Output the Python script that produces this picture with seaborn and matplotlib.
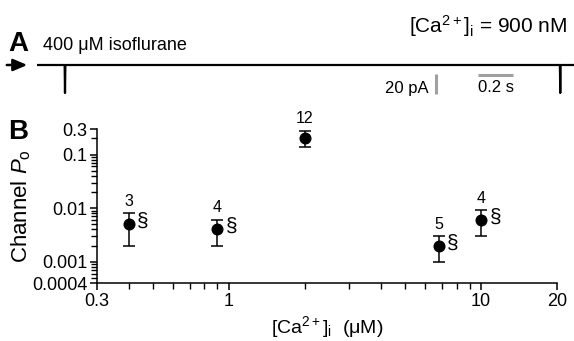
import numpy as np
import pandas as pd
import matplotlib
matplotlib.use("Agg")
import matplotlib.pyplot as plt
import matplotlib.ticker as mticker
import seaborn as sns

# ---------------- data ----------------
ca_conc = [0.4, 0.9, 2.0, 6.8, 10.0]            # [Ca2+]i (uM)
po_mean = [0.0051, 0.0040, 0.206, 0.0020, 0.0061]
po_upper = [0.0081, 0.0061, 0.28, 0.0030, 0.0092]
po_lower = [0.0020, 0.0020, 0.137, 0.0010, 0.0030]
n_labels = ["3", "4", "12", "5", "4"]
significant = [True, True, False, True, True]

x_ticks = [0.3, 1, 10, 20]
x_ticklabels = ["0.3", "1", "10", "20"]
y_ticks = [0.0004, 0.001, 0.01, 0.1, 0.3]
y_ticklabels = ["0.0004", "0.001", "0.01", "0.1", "0.3"]

# single-channel trace (s, pA): flat baseline with two brief openings
trace_t = [0.0, 0.158, 0.16, 0.162, 2.988, 2.99, 2.992, 3.07]
trace_i = [0.0, 0.0, -28.0, 0.0, 0.0, -28.0, 0.0, 0.0]
scale_pA = 20
scale_s = 0.2

# ---------------- style ----------------
sns.set_theme(style="ticks")
plt.rcParams["font.family"] = ["Liberation Sans", "DejaVu Sans"]
plt.rcParams["mathtext.fontset"] = "custom"
plt.rcParams["mathtext.rm"] = "Liberation Sans"
plt.rcParams["mathtext.it"] = "Liberation Sans:italic"
plt.rcParams["axes.linewidth"] = 1.1
for k in ["text.color", "axes.labelcolor", "xtick.color", "ytick.color",
          "axes.edgecolor"]:
    plt.rcParams[k] = "black"

W, H = 574, 341
fig = plt.figure(figsize=(W / 100, H / 100), dpi=100)

def fx(px):
    return px / W

def fy(py):
    return 1 - py / H

# ---------------- panel A: trace ----------------
px_per_s = 175.0
t0_px = 37
y0_px = 65
axA_left, axA_right = t0_px, W
axA_top, axA_bot = 55, 105
axA = fig.add_axes([fx(axA_left), fy(axA_bot), fx(axA_right - axA_left),
                    (axA_bot - axA_top) / H])
axA.set_xlim(0, (axA_right - axA_left) / px_per_s)
axA.set_ylim(-(axA_bot - y0_px), (y0_px - axA_top))
axA.axis("off")
trace_df = pd.DataFrame({"t": trace_t, "i": trace_i})
sns.lineplot(data=trace_df, x="t", y="i", ax=axA, color="black", lw=1.6,
             estimator=None, sort=False)
# scale bars
bar_x = (436 - t0_px) / px_per_s
axA.plot([bar_x, bar_x], [-9, -9 - scale_pA], color="#a0a0a0", lw=2.2,
         solid_capstyle="butt")
hb_x0 = (478 - t0_px) / px_per_s
axA.plot([hb_x0, hb_x0 + scale_s], [-10, -10], color="#a0a0a0", lw=2.2,
         solid_capstyle="butt")
axA.text(bar_x - 0.04, -23, f"{scale_pA} pA", ha="right", va="center", fontsize=12)
axA.text(hb_x0 + scale_s / 2, -23, f"{scale_s} s", ha="center", va="center",
         fontsize=12)

# arrow and labels
axArrow = fig.add_axes([0, 0, 1, 1], facecolor="none")
axArrow.set_xlim(0, W)
axArrow.set_ylim(H, 0)
axArrow.axis("off")
axArrow.annotate("", xy=(30, 65), xytext=(4, 65),
                 arrowprops=dict(arrowstyle="-|>,head_length=0.7,head_width=0.3",
                                 color="black", lw=1.8))
fig.text(fx(8), fy(51), "A", fontsize=20, fontweight="bold", ha="left",
         va="baseline")
fig.text(fx(43), fy(50), "400 μM isofluran" + "e", fontsize=13, ha="left",
         va="baseline")
fig.text(fx(567), fy(33), r"$\mathregular{[Ca^{2+}]_i}$ = 900 nM", fontsize=15,
         ha="right", va="baseline")
fig.text(fx(8), fy(139), "B", fontsize=20, fontweight="bold", ha="left",
         va="baseline")

# ---------------- panel B: Po vs Ca ----------------
axB = fig.add_axes([fx(97), fy(283), fx(557 - 97), (283 - 129) / H])
axB.set_xscale("log")
axB.set_yscale("log")
err_lo = np.array(po_mean) - np.array(po_lower)
err_hi = np.array(po_upper) - np.array(po_mean)
axB.errorbar(ca_conc, po_mean, yerr=[err_lo, err_hi], fmt="none",
             ecolor="black", elinewidth=1.1, capsize=4, capthick=1.1, zorder=2)
df = pd.DataFrame({"ca": ca_conc, "po": po_mean})
sns.scatterplot(data=df, x="ca", y="po", ax=axB, color="black", s=75,
                edgecolor="black", linewidth=0, zorder=3)
for x, top, y, lab, sig in zip(ca_conc, po_upper, po_mean, n_labels, significant):
    axB.annotate(lab, (x, top), xytext=(0, 3), textcoords="offset points",
                 ha="center", va="bottom", fontsize=11.5)
    if sig:
        axB.annotate("§", (x, y), xytext=(6, 2), textcoords="offset points",
                     ha="left", va="center", fontsize=15)

axB.set_xlim(0.3, 20)
axB.set_ylim(0.0004, 0.3)
axB.set_xticks(x_ticks)
axB.set_xticklabels(x_ticklabels)
axB.set_yticks(y_ticks)
axB.set_yticklabels(y_ticklabels)
axB.xaxis.set_minor_locator(mticker.LogLocator(base=10, subs=np.arange(2, 10)))
axB.yaxis.set_minor_locator(mticker.LogLocator(base=10, subs=np.arange(2, 10)))
axB.xaxis.set_minor_formatter(mticker.NullFormatter())
axB.yaxis.set_minor_formatter(mticker.NullFormatter())
axB.tick_params(which="major", direction="out", length=5, width=1.1,
                labelsize=13, pad=2, color="black")
axB.tick_params(which="minor", direction="out", length=4, width=1.0,
                color="black")
for s in ["top", "right"]:
    axB.spines[s].set_visible(False)
axB.set_xlabel(r"$\mathregular{[Ca^{2+}]_i}$  (μM)", fontsize=14)
axB.set_ylabel(r"Channel $\mathit{P}_\mathregular{o}$", fontsize=16)
axB.xaxis.set_label_coords(0.5, -0.2)
axB.yaxis.set_label_coords(-0.14, 0.5)
axB.patch.set_alpha(0)

fig.savefig("out.png", dpi=100)
